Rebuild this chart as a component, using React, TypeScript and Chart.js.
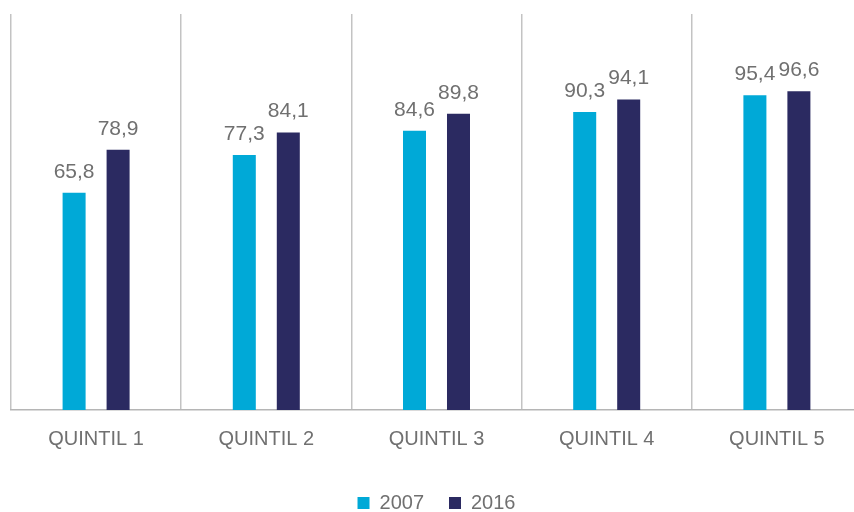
import React, { useEffect, useRef } from "react";
import { Chart, registerables } from "chart.js";

Chart.register(...registerables);

const categories = ["QUINTIL 1", "QUINTIL 2", "QUINTIL 3", "QUINTIL 4", "QUINTIL 5"];
const series2007 = [65.8, 77.3, 84.6, 90.3, 95.4];
const series2016 = [78.9, 84.1, 89.8, 94.1, 96.6];
const seriesNames = ["2007", "2016"];
const yMin = 0;
const yMax = 120;

const FONT = "'Liberation Sans', Arial, sans-serif";

const valueLabels = {
  id: "valueLabels",
  afterDatasetsDraw(chart: any) {
    const ctx = chart.ctx;
    ctx.save();
    ctx.font = `21px ${FONT}`;
    ctx.fillStyle = "#707070";
    ctx.textAlign = "center";
    ctx.textBaseline = "alphabetic";
    chart.data.datasets.forEach((ds: any, i: number) => {
      const meta = chart.getDatasetMeta(i);
      meta.data.forEach((el: any, j: number) => {
        const v = ds.data[j] as number;
        ctx.fillText(v.toFixed(1).replace(".", ","), el.x, el.y - 15);
      });
    });
    ctx.restore();
  },
};

export default function App() {
  const ref = useRef<HTMLCanvasElement | null>(null);
  useEffect(() => {
    if (!ref.current) return;
    const chart = new Chart(ref.current, {
      type: "bar",
      data: {
        labels: categories,
        datasets: [
          {
            label: seriesNames[0],
            data: series2007,
            backgroundColor: "#00A9D7",
            categoryPercentage: 0.517,
            barPercentage: 0.523,
          },
          {
            label: seriesNames[1],
            data: series2016,
            backgroundColor: "#2B2A61",
            categoryPercentage: 0.517,
            barPercentage: 0.523,
          },
        ],
      },
      options: {
        animation: false,
        responsive: true,
        maintainAspectRatio: false,
        layout: { padding: { left: 11, right: 0, top: 14, bottom: -11 } },
        plugins: {
          tooltip: { enabled: false },
          legend: {
            position: "bottom",
            labels: {
              boxWidth: 12,
              boxHeight: 12,
              padding: 25,
              color: "#707070",
              font: { family: FONT, size: 20 },
            },
          },
        },
        scales: {
          x: {
            offset: true,
            grid: { offset: true, display: true, color: "#c3c3c3", lineWidth: 1.5, drawTicks: false },
            border: { display: true, color: "#b5b5b5", width: 1.5 },
            ticks: {
              padding: 17,
              color: "#707070",
              font: { family: FONT, size: 20 },
            },
          },
          y: {
            display: false,
            min: yMin,
            max: yMax,
          },
        },
      },
      plugins: [valueLabels],
    });
    return () => chart.destroy();
  }, []);
  return (
    <div style={{ position: "fixed", left: 0, top: 0, width: 854, height: 512, overflow: "hidden", background: "#fff" }}>
      <div style={{ position: "relative", width: 862, height: 512 }}>
        <canvas ref={ref} />
      </div>
    </div>
  );
}
